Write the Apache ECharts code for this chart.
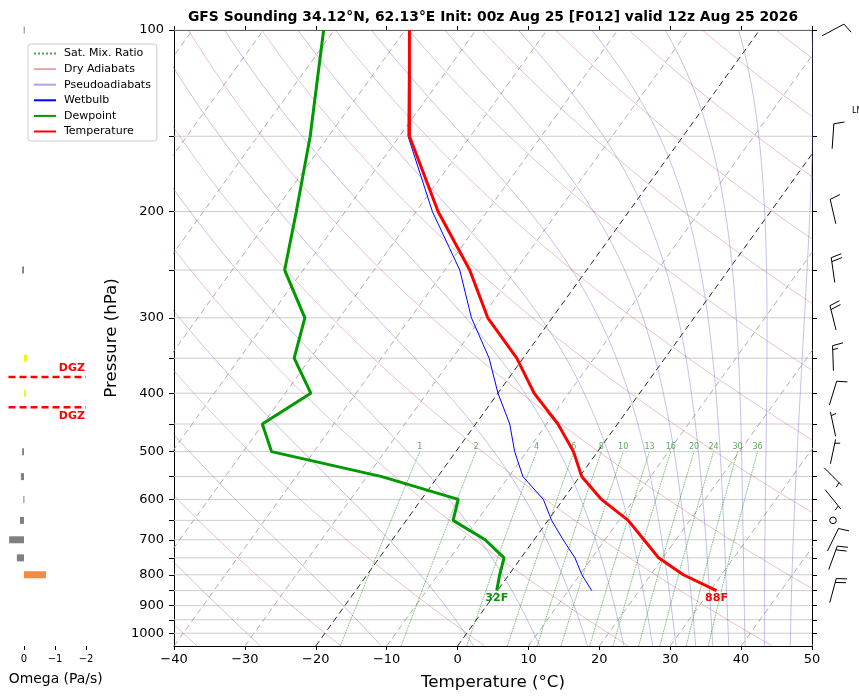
<!DOCTYPE html>
<html>
<head>
<meta charset="utf-8">
<script src="https://cdn.jsdelivr.net/npm/echarts@6.0.0/dist/echarts.min.js"></script>
<style>html,body{margin:0;padding:0;background:#fff}#chart{width:859px;height:696px}</style>
</head>
<body>
<div id="chart"></div>
<script>
// sounding profile (hPa, degC)
const pressure = [100,150,200,250,300,350,400,450,500,550,600,650,700,750,800,850];
const temperature = [-69.4,-58.6,-46.9,-36.5,-29.1,-20.9,-14.9,-8.4,-3.4,0.3,5.4,11.3,15.5,19.4,24.6,30.9];
const dewpoint = [-81.5,-72.6,-66.9,-62.6,-54.9,-52.3,-46.4,-50.1,-46.0,-27.9,-14.8,-13.4,-6.9,-2.4,-1.3,-0.1];
const wetbulb = [-69.5,-58.8,-47.7,-37.9,-31.4,-24.8,-20.0,-15.2,-11.7,-8.0,-2.8,0.5,4.1,7.6,10.3,13.3];

// omega panel
const omegaP = [100,250,350,400,500,550,600,650,700,750,800];
const omega = [0.01,0.06,-0.1,-0.06,0.06,0.1,0.02,0.13,0.48,0.23,-0.71];
const dgzP = [376, 422];
const omegaTicks = [0, -1, -2];

// wind barbs (deg from, kt)
const windP = [100,150,200,250,300,350,400,450,500,550,600,650,700,750,850];
const windDir = [62,4,347,352,346,358,17,348,12,135,141,0,26,20,15];
const windSpd = [10,10,10,20,20,15,10,5,5,5,5,0,10,20,20];

// background lines
const isobars = [100,150,200,250,300,350,400,450,500,550,600,650,700,750,800,850,900,950,1000];
const pLabels = [100,200,300,400,500,600,700,800,900,1000];
const isotherms = [-100,-90,-80,-70,-60,-50,-40,-30,-20,-10,0,10,20,30,40,50];
const dashIsotherms = [-20, 0];
const dryT0 = [-40,-20,0,20,40,60,80,100,120,140,160,180,200,220,240];
const moistTheta = [243,263,283,303,323,343,363,383,403,423,443,463,483,503,523,543,563];
const mixRatios = [1,2,4,6,8,10,13,16,20,24,30,36];

const P_BOT = 1050, P_TOP = 100, SKEW = 61.31, KAPPA = 0.2857;
const lp = p => Math.log10(p);
const skewX = (t, p) => t + SKEW * Math.log10(P_BOT / p);
const minus = v => String(v).replace('-', '\u2212');

function pSteps(p0, p1, n) {
    let out = [];
    for (let i = 0; i <= n; i++) out.push(p0 * Math.pow(p1 / p0, i / n));
    return out;
}

function lineSeries(name, data, color, width, type, z) {
    return {
        type: 'line', name: name, data: data, symbol: 'none', silent: true,
        xAxisIndex: 0, yAxisIndex: 0, clip: true, z: z || 1,
        itemStyle: { color: color },
        lineStyle: { color: color, width: width, type: type || 'solid' }
    };
}

let series = [];

// isobars
isobars.forEach(p => {
    series.push(lineSeries('isobar', [[-40, lp(p)], [50, lp(p)]], '#cccccc', 1));
});

// isotherms
isotherms.forEach(t => {
    let hot = dashIsotherms.indexOf(t) >= 0;
    series.push(lineSeries('isotherm', [[skewX(t, P_BOT), lp(P_BOT)], [skewX(t, P_TOP), lp(P_TOP)]],
        hot ? '#111111' : '#999999', hot ? 0.9 : 0.8, [6, 4]));
});

// dry adiabats
const dryLevels = pSteps(P_BOT, P_TOP, 50);
dryT0.forEach(t0 => {
    let pts = dryLevels.map(p => [skewX((t0 + 273.15) * Math.pow(p / 1000, KAPPA) - 273.15, p), lp(p)]);
    series.push(lineSeries('Dry Adiabats', pts, 'rgba(205,95,95,0.55)', 0.7));
});

// pseudoadiabats
function slope(l, T) {
    let p = Math.exp(l), tc = T - 273.15;
    let es = 6.112 * Math.exp(17.67 * tc / (tc + 243.5));
    let rs = 0.622 * es / (p - es);
    return (287.04 * T + 2.501e6 * rs) / (1005.7 + 2.501e6 * 2.501e6 * rs * 0.622 / (287.04 * T * T));
}
moistTheta.forEach(th => {
    let T = th * Math.pow(P_TOP / 1000, KAPPA);
    let l = Math.log(P_TOP), l1 = Math.log(P_BOT), n = 300, h = (l1 - l) / n;
    let pts = [[skewX(T - 273.15, P_TOP), lp(P_TOP)]];
    for (let i = 0; i < n; i++) {
        let k1 = slope(l, T), k2 = slope(l + h / 2, T + h * k1 / 2);
        let k3 = slope(l + h / 2, T + h * k2 / 2), k4 = slope(l + h, T + h * k3);
        T += h * (k1 + 2 * k2 + 2 * k3 + k4) / 6;
        l += h;
        if (i % 3 === 2) pts.push([skewX(T - 273.15, Math.exp(l)), l / Math.LN10]);
    }
    series.push(lineSeries('Pseudoadiabats', pts, 'rgba(95,95,210,0.55)', 0.7));
});

// saturation mixing ratio
function tdFromW(w, p) {
    let e = p * w / (622 + w);
    let x = Math.log(e / 6.112);
    return 243.5 * x / (17.67 - x);
}
const mixLevels = pSteps(P_BOT, 500, 20);
let mixLabels = [];
mixRatios.forEach(w => {
    series.push(lineSeries('Sat. Mix. Ratio', mixLevels.map(p => [skewX(tdFromW(w, p), p), lp(p)]),
        'rgba(20,130,20,0.75)', 0.9, 'dotted'));
    mixLabels.push([skewX(tdFromW(w, 500), 500), lp(500), w]);
});
series.push({
    type: 'custom', xAxisIndex: 0, yAxisIndex: 0, silent: true, z: 3, data: mixLabels,
    renderItem: (params, api) => {
        let c = api.coord([api.value(0), api.value(1)]);
        return { type: 'text', x: c[0], y: c[1] - 0.5, style: { text: String(api.value(2)), align: 'center', verticalAlign: 'bottom', fill: 'rgba(40,140,40,0.75)', font: '8px DejaVu Sans' } };
    }
});

// profiles
const prof = arr => arr.map((t, i) => [skewX(t, pressure[i]), lp(pressure[i])]);
series.push(lineSeries('Wetbulb', prof(wetbulb), '#0000ff', 1, 'solid', 5));
series.push(lineSeries('Dewpoint', prof(dewpoint), '#009900', 3, 'solid', 5));
series.push(lineSeries('Temperature', prof(temperature), '#ff0000', 3, 'solid', 6));

// surface labels in F
const n = pressure.length - 1;
const sfc = [[dewpoint[n], '#009900'], [temperature[n], '#ff0000']];
series.push({
    type: 'custom', xAxisIndex: 0, yAxisIndex: 0, silent: true, z: 7,
    data: sfc.map(s => [skewX(s[0], pressure[n]), lp(pressure[n])]),
    renderItem: (params, api) => {
        let c = api.coord([api.value(0), api.value(1)]);
        let s = sfc[params.dataIndex];
        return { type: 'text', x: c[0], y: c[1] + 2, style: { text: Math.round(s[0] * 9 / 5 + 32) + 'F', align: 'center', verticalAlign: 'top', fill: s[1], font: 'bold 11px DejaVu Sans' } };
    }
});

// omega bars
series.push({
    type: 'custom', xAxisIndex: 2, yAxisIndex: 2, silent: true,
    data: omega.map((w, i) => [w, lp(omegaP[i])]),
    renderItem: (params, api) => {
        let a = api.coord([0, api.value(1)]), b = api.coord([api.value(0), api.value(1)]);
        let w = api.value(0);
        let col = w >= 0 ? '#808080' : (w > -0.3 ? '#f2f21c' : '#f28c45');
        return { type: 'rect', shape: { x: Math.min(a[0], b[0]), y: a[1] - 3.5, width: Math.max(Math.abs(b[0] - a[0]), 1), height: 7 }, style: { fill: col } };
    }
});
dgzP.forEach(p => {
    series.push({
        type: 'line', xAxisIndex: 2, yAxisIndex: 2, symbol: 'none', silent: true,
        data: [[0.5, lp(p)], [-2, lp(p)]],
        lineStyle: { color: '#ff0000', width: 2.5, type: [7, 4] }
    });
});
series.push({
    type: 'custom', xAxisIndex: 2, yAxisIndex: 2, silent: true,
    data: dgzP.map(p => [-2, lp(p)]),
    renderItem: (params, api) => {
        let c = api.coord([api.value(0), api.value(1)]);
        let up = params.dataIndex === 0;
        return { type: 'text', x: c[0] - 1, y: c[1] + (up ? -9 : 9), style: { text: 'DGZ', align: 'right', verticalAlign: 'middle', fill: '#ff0000', font: 'bold 11px DejaVu Sans' } };
    }
});

// wind barbs
series.push({
    type: 'custom', xAxisIndex: 3, yAxisIndex: 3, silent: true,
    data: windP.map((p, i) => [0.5, lp(p), windDir[i], windSpd[i]]),
    renderItem: (params, api) => {
        let c = api.coord([api.value(0), api.value(1)]);
        let d = api.value(2) * Math.PI / 180, spd = api.value(3);
        let st = { stroke: '#000', lineWidth: 1 };
        if (spd < 2.5) return { type: 'circle', shape: { cx: c[0], cy: c[1], r: 3.3 }, style: { fill: 'none', stroke: '#000', lineWidth: 1 } };
        let ux = Math.sin(d), uy = -Math.cos(d), nx = Math.cos(d), ny = Math.sin(d);
        let half = 12.5;
        let tip = [c[0] + ux * half, c[1] + uy * half];
        let kids = [{ type: 'line', shape: { x1: c[0] - ux * half, y1: c[1] - uy * half, x2: tip[0], y2: tip[1] }, style: st }];
        let full = Math.floor(spd / 10), hb = (spd % 10) >= 5;
        let s = full === 0 ? 4 : 0;
        const barb = (len) => {
            let px = tip[0] - ux * s, py = tip[1] - uy * s;
            kids.push({ type: 'line', shape: { x1: px, y1: py, x2: px + nx * len + ux * len * 0.24, y2: py + ny * len + uy * len * 0.24 }, style: st });
            s += 4;
        };
        for (let i = 0; i < full; i++) barb(10.5);
        if (hb) barb(5.25);
        return { type: 'group', children: kids };
    }
});
series.push({
    type: 'custom', xAxisIndex: 3, yAxisIndex: 3, silent: true,
    data: [[0.5, lp(136)]],
    renderItem: (params, api) => {
        let c = api.coord([api.value(0), api.value(1)]);
        return { type: 'text', x: c[0] + 19, y: c[1], style: { text: 'LMT', align: 'left', verticalAlign: 'middle', fill: '#000', font: '8px DejaVu Sans' } };
    }
});

const tickLP = isobars.map(lp);
const labelLP = pLabels.map(lp);
const yRange = { type: 'value', min: lp(P_TOP), max: lp(P_BOT), inverse: true };
const black = { color: '#000', width: 1 };

const option = {
    animation: false,
    textStyle: { fontFamily: 'DejaVu Sans' },
    title: {
        text: 'GFS Sounding 34.12°N, 62.13°E Init: 00z Aug 25 [F012] valid 12z Aug 25 2026',
        left: 488, textAlign: 'center', top: 5,
        textStyle: { fontSize: 13.9, fontWeight: 'bold', color: '#000' }
    },
    legend: {
        left: 28, top: 44, orient: 'vertical', selectedMode: false,
        itemWidth: 22, itemHeight: 11, itemGap: 4.6, padding: [4, 6, 4, 5],
        backgroundColor: 'rgba(255,255,255,0.85)', borderColor: '#cccccc', borderWidth: 1, borderRadius: 3,
        itemStyle: { opacity: 0 },
        textStyle: { fontSize: 11, color: '#000', padding: [0, 0, 0, 3] },
        data: ['Sat. Mix. Ratio', 'Dry Adiabats', 'Pseudoadiabats', 'Wetbulb', 'Dewpoint', 'Temperature']
    },
    grid: [
        { left: 174, top: 30, width: 638, height: 616 },
        { left: 8.5, top: 30, width: 77.5, height: 616 },
        { left: 820, top: 30, width: 26, height: 616 }
    ],
    xAxis: [
        {
            gridIndex: 0, type: 'value', min: -40, max: 50, interval: 10, position: 'bottom',
            axisLine: { onZero: false, lineStyle: black }, axisTick: { length: 4, lineStyle: black },
            axisLabel: { color: '#000', fontSize: 13, margin: 7, formatter: minus }, splitLine: { show: false },
            name: 'Temperature (°C)', nameLocation: 'middle', nameGap: 28, nameTextStyle: { fontSize: 16.7, color: '#000' }
        },
        {
            gridIndex: 0, type: 'value', min: -40, max: 50, interval: 10, position: 'top',
            axisLine: { onZero: false, lineStyle: black }, axisTick: { length: 4, lineStyle: black },
            axisLabel: { show: false }, splitLine: { show: false }
        },
        {
            gridIndex: 1, type: 'value', min: -2, max: 0.5, inverse: true,
            axisLine: { show: false, onZero: false },
            axisTick: { show: true, length: 4, customValues: omegaTicks, lineStyle: black },
            axisLabel: { customValues: omegaTicks, fontSize: 10, color: '#000', margin: 8, formatter: minus },
            splitLine: { show: false },
            name: 'Omega (Pa/s)', nameLocation: 'middle', nameGap: 26,
            nameTextStyle: { fontSize: 13.9, color: '#000', padding: [0, 0, 0, 17] }
        },
        { gridIndex: 2, type: 'value', min: 0, max: 1, show: false }
    ],
    yAxis: [
        Object.assign({}, yRange, {
            gridIndex: 0, position: 'left',
            axisLine: { show: true, onZero: false, lineStyle: black },
            axisTick: { show: true, length: 5, customValues: tickLP, lineStyle: black },
            axisLabel: { customValues: labelLP, color: '#000', fontSize: 13, margin: 10, formatter: v => String(Math.round(Math.pow(10, v))) },
            splitLine: { show: false },
            name: 'Pressure (hPa)', nameLocation: 'middle', nameGap: 45, nameRotate: 90,
            nameTextStyle: { fontSize: 16.7, color: '#000' }
        }),
        Object.assign({}, yRange, {
            gridIndex: 0, position: 'right',
            axisLine: { show: true, onZero: false, lineStyle: black },
            axisTick: { show: true, length: 5, customValues: tickLP, lineStyle: black },
            axisLabel: { show: false }, splitLine: { show: false }
        }),
        Object.assign({}, yRange, { gridIndex: 1, show: false }),
        Object.assign({}, yRange, { gridIndex: 2, show: false })
    ],
    series: series
};

const myChart = echarts.init(document.getElementById('chart'));
myChart.setOption(option);
</script>
</body>
</html>
